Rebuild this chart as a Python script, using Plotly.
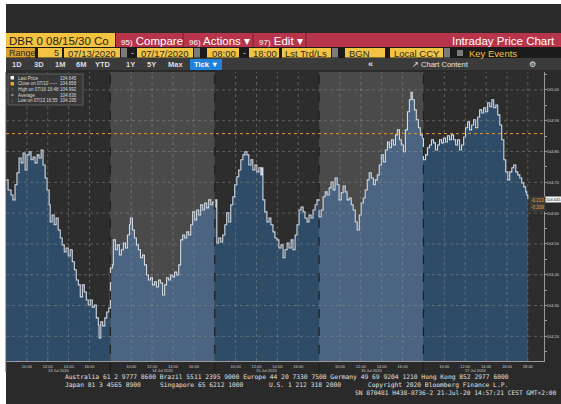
import plotly.graph_objects as go

W, H = 561, 404
PL, PR, PT, PB = 6, 544, 72, 361

day_labels = ["13 Jul 2020", "14 Jul 2020", "15 Jul 2020", "16 Jul 2020", "17 Jul 2020"]

times1 = ["08:00","08:12","08:29","08:40","08:52","09:03","09:15","09:27","09:38","09:50","10:01","10:13","10:24","10:36","10:47","10:59","11:10","11:22","11:33","11:45","11:56","12:08","12:14","12:25","12:37","12:48","13:00","13:12","13:23","13:35","13:46","13:58","14:09","14:21","14:33","14:44","14:56","15:07","15:19","15:30","15:42","15:53","16:05","16:16","16:28","16:39","16:51","16:55","17:05","17:16","17:28","17:39","17:51","18:00"]
prices1 = [104.708,104.675,104.659,104.643,104.692,104.731,104.779,104.763,104.795,104.740,104.789,104.799,104.773,104.782,104.763,104.789,104.779,104.805,104.756,104.714,104.675,104.627,104.571,104.594,104.562,104.584,104.545,104.519,104.497,104.474,104.487,104.461,104.481,104.442,104.416,104.383,104.367,104.328,104.367,104.344,104.318,104.302,104.318,104.295,104.302,104.260,104.237,104.195,104.247,104.234,104.260,104.279,104.292,104.299]

times2 = ["08:00","08:12","08:17","08:29","08:40","08:52","09:03","09:15","09:27","09:38","09:50","09:55","10:07","10:18","10:30","10:41","10:53","11:05","11:16","11:28","11:39","11:51","12:02","12:14","12:25","12:37","12:48","13:00","13:12","13:23","13:35","13:46","13:58","14:09","14:21","14:33","14:44","14:56","15:07","15:19","15:30","15:42","15:53","16:05","16:16","16:28","16:39","16:51","17:02","17:14","17:25","17:37","17:48","18:00"]
prices2 = [104.422,104.432,104.513,104.481,104.497,104.464,104.481,104.503,104.487,104.529,104.562,104.584,104.545,104.519,104.497,104.481,104.455,104.464,104.432,104.399,104.383,104.390,104.367,104.377,104.360,104.383,104.373,104.334,104.367,104.390,104.383,104.399,104.393,104.409,104.399,104.432,104.513,104.529,104.519,104.539,104.529,104.562,104.604,104.578,104.610,104.594,104.627,104.610,104.633,104.617,104.643,104.627,104.636,104.620]

times3 = ["08:00","08:06","08:12","08:23","08:35","08:46","08:58","09:09","09:21","09:32","09:44","09:55","10:07","10:18","10:30","10:42","10:53","11:05","11:16","11:28","11:39","11:51","12:02","12:14","12:25","12:31","12:37","12:48","13:00","13:12","13:23","13:35","13:46","13:58","14:09","14:21","14:33","14:44","14:56","15:07","15:19","15:30","15:42","15:53","16:05","16:16","16:28","16:39","16:51","17:02","17:14","17:25","17:37","17:48","18:00"]
prices3 = [104.620,104.643,104.503,104.519,104.506,104.529,104.562,104.601,104.571,104.627,104.653,104.692,104.718,104.740,104.773,104.789,104.799,104.789,104.756,104.773,104.740,104.756,104.734,104.747,104.724,104.747,104.643,104.604,104.571,104.584,104.562,104.539,104.519,104.513,104.487,104.497,104.455,104.481,104.503,104.487,104.513,104.481,104.529,104.562,104.610,104.620,104.604,104.584,104.571,104.594,104.584,104.610,104.627,104.643,104.627]

times4 = ["08:00","08:12","08:23","08:35","08:46","08:58","09:09","09:21","09:32","09:44","09:55","10:07","10:18","10:30","10:41","10:53","11:05","11:16","11:28","11:39","11:51","12:02","12:14","12:25","12:37","12:48","13:00","13:12","13:23","13:35","13:46","13:58","14:09","14:21","14:33","14:44","14:56","15:07","15:19","15:30","15:42","15:53","16:05","16:16","16:28","16:39","16:48","16:56","17:08","17:19","17:31","17:42","17:54","18:00"]
prices4 = [104.588,104.610,104.653,104.669,104.659,104.682,104.701,104.675,104.714,104.692,104.643,104.666,104.688,104.669,104.643,104.649,104.627,104.610,104.571,104.545,104.594,104.633,104.649,104.675,104.708,104.731,104.714,104.692,104.708,104.724,104.756,104.789,104.766,104.805,104.831,104.812,104.838,104.821,104.854,104.870,104.838,104.821,104.799,104.870,104.929,104.968,104.992,104.968,104.935,104.903,104.877,104.854,104.844,104.838]

times5 = ["08:00","08:12","08:23","08:35","08:46","08:58","09:09","09:21","09:32","09:44","09:55","10:07","10:18","10:30","10:41","10:53","11:05","11:16","11:28","11:39","11:51","12:02","12:14","12:25","12:37","12:48","13:00","13:12","13:23","13:35","13:46","13:58","14:09","14:21","14:33","14:44","14:56","15:07","15:19","15:30","15:42","15:53","16:05","16:16","16:28","16:39","16:51","17:02","17:14","17:25","17:37","17:48","17:54","18:00"]
prices5 = [104.773,104.789,104.812,104.821,104.838,104.828,104.805,104.821,104.838,104.828,104.844,104.831,104.851,104.838,104.854,104.838,104.821,104.838,104.805,104.821,104.847,104.877,104.896,104.870,104.886,104.903,104.877,104.912,104.935,104.925,104.942,104.929,104.958,104.945,104.968,104.942,104.951,104.919,104.886,104.838,104.773,104.734,104.708,104.734,104.747,104.756,104.734,104.724,104.714,104.698,104.685,104.669,104.659,104.645]

tick_hours = ["10:00", "12:00", "14:00", "16:00"]
ytick_vals = [104.20, 104.30, 104.40, 104.50, 104.60, 104.70, 104.80, 104.90, 105.00]
close_prev = 104.858
last_price = 104.645
pct_label = "-0.209"
legend_names = ["Last Price", "Close on 07/10 -----", "High on 07/16 16:48", "Average", "Low on 07/13 16:55"]
legend_values = ["104.645", "104.858", "104.992", "104.636", "104.195"]
legend_marks = ["", "", "\u2191", "=", "\u2193"]

all_times = [times1, times2, times3, times4, times5]
all_prices = [prices1, prices2, prices3, prices4, prices5]

DAY_HOURS = 10
OPEN_H = 8

def tpos(d, t):
    h, m = t.split(":")
    return d * DAY_HOURS + (int(h) - OPEN_H) + int(m) / 60.0

XMAX = 51.55
YMIN, YMAX = 104.120, 105.058

def px(x):
    return (x - PL) / (PR - PL)

def py(y):
    return (PB - y) / (PB - PT)

dark_bg = "#2d2d2d"
light_bg = "#4a4a4a"
fill_dark = "#2e4c68"
fill_light = "#4a6482"

fig = go.Figure()

for d in range(5):
    xs = [tpos(d, t) for t in all_times[d]]
    fig.add_trace(go.Scatter(
        x=xs, y=all_prices[d], mode="lines", line=dict(width=0, shape="hv"),
        fill="tozeroy", fillcolor=fill_light if d % 2 == 1 else fill_dark,
        hoverinfo="skip", showlegend=False))

lx, ly = [], []
for d in range(5):
    lx += [tpos(d, t) for t in all_times[d]]
    ly += all_prices[d]
fig.add_trace(go.Scatter(x=lx, y=ly, mode="lines",
                         line=dict(color="#d2d9e2", width=1.1, shape="hv"),
                         showlegend=False, hoverinfo="skip"))

shapes = []
ann = []

def rect(x0, y0, x1, y1, color, line=None, layer="below"):
    shapes.append(dict(type="rect", xref="paper", yref="paper",
                       x0=px(x0), x1=px(x1), y0=py(y1), y1=py(y0),
                       fillcolor=color, line=dict(width=0) if line is None else line,
                       layer=layer))

def text(x, y, s, size, color, anchor="left", family="Liberation Sans", bg=None):
    a = dict(xref="paper", yref="paper", x=px(x), y=py(y), text=s, showarrow=False,
             xanchor=anchor, yanchor="middle",
             font=dict(size=size, color=color, family=family))
    if bg:
        a["bgcolor"] = bg
    ann.append(a)

# page background
rect(6, 4, 561, 404, "#2a2a2a")
# header row 1
rect(6, 33, 115, 47, "#f6c33f")
rect(116, 33, 561, 47, "#b7344a")
for xd in [183, 253, 306]:
    shapes.append(dict(type="line", xref="paper", yref="paper", x0=px(xd), x1=px(xd),
                       y0=py(47), y1=py(33), line=dict(color="#7d1f2f", width=1), layer="below"))
text(7, 40.5, "DBR 0 08/15/30 Co", 11.5, "#1c1c1c")
text(119, 40.5, "<span style='font-size:8px'>95)</span> Compare", 11.5, "#ffffff")
text(187, 40.5, "<span style='font-size:8px'>96)</span> Actions \u25be", 11.5, "#ffffff")
text(257, 40.5, "<span style='font-size:8px'>97)</span> Edit \u25be", 11.5, "#ffffff")
text(557, 40.5, "Intraday Price Chart", 11.5, "#ffffff", anchor="right")

# header row 2
rect(6, 47, 561, 58, "#1b1b1b")
ybox0, ybox1 = 48, 57.5
rect(6, ybox0, 35, ybox1, "#dba12a")
text(7, 53, "Range", 9, "#2a2a2a")
yel = "#f3c343"
rect(38, ybox0, 62, ybox1, yel)
text(61, 53, "5", 9, "#2a2a2a", anchor="right")
rect(64, ybox0, 120, ybox1, yel)
text(66, 53, "07/13/2020", 9.5, "#2a2a2a")
rect(121, ybox0, 127, ybox1, "#7a7a7a")
text(132, 53, "-", 9, "#dddddd", anchor="center")
rect(137, ybox0, 193, ybox1, yel)
text(139, 53, "07/17/2020", 9.5, "#2a2a2a")
rect(194, ybox0, 200, ybox1, "#7a7a7a")
rect(207, ybox0, 239, ybox1, yel)
text(210, 53, "08:00", 9.5, "#2a2a2a")
text(244, 53, "-", 9, "#dddddd", anchor="center")
rect(249, ybox0, 279, ybox1, yel)
text(251, 53, "18:00", 9.5, "#2a2a2a")
rect(282, ybox0, 331, ybox1, yel)
text(283, 53, "Lst Trd/Ls", 9.5, "#2a2a2a")
rect(332, ybox0, 338, ybox1, "#7a7a7a")
rect(345, ybox0, 385, ybox1, yel)
text(347, 53, "BGN", 9.5, "#2a2a2a")
rect(390, ybox0, 443, ybox1, yel)
text(392, 53, "Local CCY", 9.5, "#2a2a2a")
rect(444, ybox0, 450, ybox1, "#7a7a7a")
rect(457, 50, 463, 56, "#7a7a7a")
text(467, 53, "Key Events", 9.5, "#f2c23c")

# header row 3
rect(6, 58, 561, 70, "#3b3b3b")
for lab, xc in [("1D", 17), ("3D", 39), ("1M", 60), ("6M", 81), ("YTD", 103),
                ("1Y", 130), ("5Y", 151), ("Max", 175)]:
    text(xc, 64.5, "<b>" + lab + "</b>", 7.5, "#dedede", anchor="center")
rect(190, 59, 222, 70, "#2182dc")
text(206, 64.5, "<b>Tick \u25bc</b>", 7.5, "#ffffff", anchor="center")
text(370, 64, "<b>\u00ab</b>", 9, "#dddddd", anchor="center")
text(440, 64.5, "\u2197 Chart Content", 7.5, "#e6e6e6", anchor="center")
text(532, 64.5, "\u2699", 8, "#e6e6e6", anchor="center")

# chart region background
rect(6, 70, 561, 380, "#2a2a2a")
rect(PL, PT, PR, PB, dark_bg)
for d in range(5):
    if d % 2 == 1:
        shapes.append(dict(type="rect", xref="x", yref="paper", x0=d * DAY_HOURS,
                           x1=(d + 1) * DAY_HOURS, y0=0, y1=1, fillcolor=light_bg,
                           line=dict(width=0), layer="below"))

grid_col = "rgba(150,150,150,0.45)"
xt_vals, xt_text = [], []
for d in range(5):
    labs = tick_hours + (["18:00"] if d == 4 else [])
    for t in labs:
        xv = tpos(d, t)
        xt_vals.append(xv)
        xt_text.append(t)
        shapes.append(dict(type="line", xref="x", yref="paper", x0=xv, x1=xv, y0=0, y1=1,
                           line=dict(color=grid_col, width=1, dash="dot"), layer="above"))
for yv in ytick_vals:
    shapes.append(dict(type="line", xref="paper", yref="y", x0=0, x1=1, y0=yv, y1=yv,
                       line=dict(color=grid_col, width=1, dash="dot"), layer="above"))
for d in range(1, 5):
    shapes.append(dict(type="line", xref="x", yref="paper", x0=d * DAY_HOURS, x1=d * DAY_HOURS,
                       y0=py(372), y1=1, line=dict(color="#1e1e1e", width=1.2, dash="dash"),
                       layer="above"))
shapes.append(dict(type="line", xref="paper", yref="paper", x0=0, x1=0, y0=py(372), y1=1,
                   line=dict(color="#555555", width=1), layer="above"))

shapes.append(dict(type="line", xref="paper", yref="y", x0=0, x1=1, y0=close_prev, y1=close_prev,
                   line=dict(color="#e39a2e", width=1, dash="dot"), layer="above"))

for d in range(5):
    ann.append(dict(xref="x", yref="paper", x=d * DAY_HOURS + DAY_HOURS / 2, y=py(370),
                    text=day_labels[d], showarrow=False, xanchor="center", yanchor="middle",
                    font=dict(size=4, color="#cfcfcf", family="Liberation Sans")))

# legend box
rect(8, 74, 83, 105, "rgba(58,58,58,0.92)", line=dict(color="#5e5e5e", width=1), layer="above")
rows_y = [78, 84, 89.5, 95, 100.5]
for i, (nm, val) in enumerate(zip(legend_names, legend_values)):
    yy = rows_y[i]
    if i == 0:
        rect(10.5, yy - 2, 14, yy + 1.5, "#f2f2f2", layer="above")
    elif i == 1:
        rect(10.5, yy - 2, 14, yy + 1.5, "#f0a22c", layer="above")
    else:
        text(12.2, yy, legend_marks[i], 4.5, "#cfcfcf", anchor="center")
    text(16, yy, nm, 4.5, "#dcdcdc")
    text(79, yy, val, 4.5, "#dcdcdc", anchor="right")

# last-price tag on the right axis
rect(545, 196.5, 561, 202.5, "#f4f4f4", layer="above")
ann.append(dict(xref="paper", yref="y", x=px(553), y=last_price, text="104.645", showarrow=False,
                xanchor="center", yanchor="middle",
                font=dict(size=4, color="#222222", family="Liberation Sans")))
chg = round(last_price - close_prev, 3)
text(537, 200.5, "%.3f" % chg, 4.5, "#eda236", anchor="center", bg="#3a3a3a")
text(537, 207, pct_label, 4.5, "#eda236", anchor="center", bg="#3a3a3a")

mono = "DejaVu Sans Mono"
fc = "#e2e2e2"
fs = 6.3
text(63, 377, "Australia 61 2 9777 8600 Brazil 5511 2395 9000 Europe 44 20 7330 7500 Germany 49 69 9204 1210 Hong Kong 852 2977 6000", fs, fc, family=mono)
text(63, 384.5, "Japan 81 3 4565 8900", fs, fc, family=mono)
text(158, 384.5, "Singapore 65 6212 1000", fs, fc, family=mono)
text(267, 384.5, "U.S. 1 212 318 2000", fs, fc, family=mono)
text(366, 384.5, "Copyright 2020 Bloomberg Finance L.P.", fs, fc, family=mono)
text(353, 392, "SN 870481 H438-8736-2 21-Jul-20 14:57:21 CEST GMT+2:00", 6.2, fc, family=mono)

fig.update_layout(
    width=W, height=H, autosize=False,
    margin=dict(l=PL, r=W - PR, t=PT, b=H - PB, pad=0, autoexpand=False),
    paper_bgcolor="#ffffff", plot_bgcolor="rgba(0,0,0,0)",
    shapes=shapes, annotations=ann, showlegend=False,
    xaxis=dict(range=[0, XMAX], tickvals=xt_vals, ticktext=xt_text, showgrid=False,
               zeroline=False, showline=True, linecolor="#9a9a9a", linewidth=1, automargin=False,
               ticks="", tickfont=dict(size=4, color="#cfcfcf", family="Liberation Sans"),
               ticklabelstandoff=1),
    yaxis=dict(range=[YMIN, YMAX], side="right", tickvals=ytick_vals, automargin=False,
               ticktext=["%.2f" % v for v in ytick_vals], showgrid=False, zeroline=False,
               showline=True, linecolor="#9a9a9a", linewidth=1, ticks="outside", ticklen=2,
               tickcolor="#9a9a9a", ticklabelstandoff=-1,
               minor=dict(dtick=0.05, ticks="outside", ticklen=1.5, tickcolor="#9a9a9a"),
               tickfont=dict(size=4, color="#cfcfcf", family="Liberation Sans")),
)

fig.write_html("out.html", config={"displayModeBar": False},
               post_script="document.body.style.margin='0px';document.body.style.overflow='hidden';")
